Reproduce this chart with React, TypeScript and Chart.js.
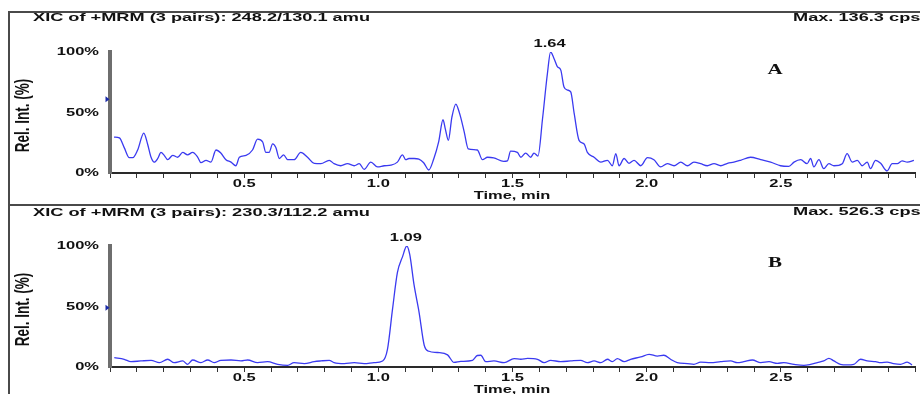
import { useEffect, useRef } from 'react';
import { Chart, registerables } from 'chart.js';

Chart.register(...registerables);

// ---------- data ----------
const timesA = [0.015, 0.035, 0.053, 0.072, 0.085, 0.103, 0.126, 0.140, 0.153, 0.165, 0.178, 0.190, 0.202, 0.215, 0.234, 0.252, 0.271, 0.289, 0.308, 0.327, 0.339, 0.358, 0.376, 0.395, 0.413, 0.432, 0.451, 0.469, 0.482, 0.507, 0.531, 0.550, 0.569, 0.581, 0.593, 0.606, 0.618, 0.631, 0.647, 0.662, 0.686, 0.711, 0.736, 0.761, 0.786, 0.817, 0.835, 0.860, 0.885, 0.910, 0.929, 0.947, 0.972, 0.997, 1.022, 1.047, 1.071, 1.090, 1.102, 1.114, 1.133, 1.151, 1.169, 1.188, 1.207, 1.225, 1.241, 1.250, 1.261, 1.274, 1.289, 1.296, 1.307, 1.320, 1.335, 1.369, 1.388, 1.407, 1.430, 1.467, 1.481, 1.493, 1.518, 1.531, 1.549, 1.568, 1.580, 1.595, 1.612, 1.630, 1.642, 1.655, 1.667, 1.680, 1.692, 1.705, 1.717, 1.730, 1.748, 1.767, 1.779, 1.804, 1.829, 1.854, 1.872, 1.885, 1.897, 1.916, 1.934, 1.953, 1.978, 2.003, 2.027, 2.052, 2.077, 2.102, 2.127, 2.152, 2.176, 2.201, 2.226, 2.251, 2.276, 2.301, 2.325, 2.350, 2.387, 2.425, 2.462, 2.499, 2.530, 2.549, 2.574, 2.598, 2.611, 2.623, 2.642, 2.660, 2.679, 2.698, 2.729, 2.747, 2.766, 2.785, 2.803, 2.822, 2.834, 2.853, 2.872, 2.896, 2.915, 2.934, 2.952, 2.971, 2.996];
const valuesA = [29.7, 29, 21, 12.7, 12.7, 19, 33, 24, 13, 9, 12, 17, 14.6, 11, 14.6, 13, 17, 15, 17, 13, 8.5, 10.5, 9, 19, 16.5, 11, 9, 6, 13, 14.6, 19, 28, 25.6, 17, 17, 24, 21, 12, 15, 11, 11, 17, 13, 8, 7.7, 10.5, 7.7, 6, 7.7, 6, 7.7, 3, 9, 5, 6, 6.5, 9, 15, 11, 12, 12, 11.5, 8.5, 2.5, 12, 26, 44, 36, 27, 46, 57, 54, 46, 34, 20, 19, 11, 13, 12.5, 9.6, 10, 18, 17, 13, 16.5, 13, 16.5, 14, 45, 82, 100, 94.5, 88, 85, 71, 68.5, 67, 49, 27, 24, 17, 13, 9, 10.5, 6, 16, 6, 12, 8, 10.5, 6, 12.7, 11, 5, 7.7, 6, 9, 6, 9, 7.7, 6, 7.7, 6, 8, 9, 10.5, 13, 11, 9, 6, 5.5, 9, 11, 7.7, 12, 5, 11, 3.6, 7.7, 6, 7.7, 16, 9, 10.5, 6, 9, 3.6, 10.5, 8, 1.7, 7.7, 7.7, 10, 9, 10.5];

const timesB = [0.016, 0.053, 0.078, 0.115, 0.153, 0.184, 0.215, 0.239, 0.271, 0.289, 0.308, 0.339, 0.364, 0.388, 0.413, 0.451, 0.488, 0.513, 0.550, 0.587, 0.625, 0.662, 0.686, 0.724, 0.761, 0.786, 0.817, 0.835, 0.873, 0.910, 0.947, 0.984, 1.016, 1.034, 1.053, 1.071, 1.090, 1.106, 1.117, 1.133, 1.152, 1.171, 1.189, 1.220, 1.258, 1.282, 1.307, 1.351, 1.369, 1.382, 1.400, 1.431, 1.469, 1.506, 1.531, 1.556, 1.593, 1.618, 1.642, 1.680, 1.717, 1.754, 1.779, 1.804, 1.829, 1.854, 1.872, 1.891, 1.916, 1.940, 1.978, 2.009, 2.040, 2.064, 2.089, 2.114, 2.152, 2.176, 2.201, 2.238, 2.276, 2.313, 2.338, 2.362, 2.394, 2.425, 2.456, 2.487, 2.511, 2.549, 2.586, 2.611, 2.636, 2.660, 2.679, 2.698, 2.722, 2.747, 2.772, 2.797, 2.822, 2.853, 2.872, 2.896, 2.920, 2.946, 2.971, 2.989];
const valuesB = [7.7, 6.4, 4.4, 5, 5.5, 3.6, 6.4, 3.6, 5, 2.2, 5.8, 3.6, 5.8, 3.6, 5.5, 5.8, 5, 5.8, 3.6, 4.4, 2.2, 1.4, 3.6, 2.8, 4.4, 5, 5.5, 3.6, 2.8, 3.6, 2.8, 3.6, 5, 14.6, 48, 78, 91, 100, 93, 68, 45, 18, 13, 12, 10, 3.8, 4.6, 5.5, 9.5, 9.7, 4.4, 5, 3.6, 7, 6.4, 7.2, 6.4, 3.6, 5.5, 4.4, 5, 5.5, 3.6, 5, 3.6, 6.4, 4.4, 7, 4.4, 6.4, 8.3, 10.5, 9, 9.7, 6.4, 3.6, 2.8, 2.2, 4, 3.6, 4.4, 5, 3.6, 4.4, 5.8, 3.6, 4.4, 3, 3.6, 2.2, 1.4, 2.2, 3.6, 5, 7.2, 5, 2.2, 1.7, 2.2, 6.4, 5, 4.4, 3.6, 4, 2.8, 2.2, 4, 1.7];

const titles = ['XIC of +MRM (3 pairs): 248.2/130.1 amu', 'XIC of +MRM (3 pairs): 230.3/112.2 amu'];
const maxLabels = ['Max. 136.3 cps', 'Max. 526.3 cps'];
const panelLetters = ['A', 'B'];
const peakLabels = ['1.64', '1.09'];
const markerLevels = [61, 49];
const xAxisTitle = 'Time, min';
const yAxisTitle = 'Rel. Int. (%)';
const xMin = 0;
const xMax = 3.0;
const xStep = 0.1;
const yStep = 50;

// ---------- styles / layout ----------
const LINE = '#3a3af0';
const TEXT = '#111111';
const FRAME = '#4a4a4a';
const SANS = '"Liberation Sans", Arial, sans-serif';
const SERIF = '"Liberation Serif", "Times New Roman", serif';

type Layout = {
  h: number; padTop: number; xAxisH: number; titleY: number; maxY: number;
  letterY: number; top: boolean;
};
const layouts: Layout[] = [
  { h: 206, padTop: 52, xAxisH: 33, titleY: 18, maxY: 18, letterY: 70, top: true },
  { h: 188, padTop: 40, xAxisH: 27, titleY: 7, maxY: 6, letterY: 57.5, top: false },
];

function stretchText(ctx: CanvasRenderingContext2D, text: string, x: number, y: number, sx: number, align: CanvasTextAlign, font: string) {
  ctx.save();
  ctx.font = font;
  ctx.textBaseline = 'middle';
  ctx.textAlign = align;
  ctx.translate(x, y);
  ctx.scale(sx, 1);
  ctx.fillText(text, 0, 0);
  ctx.restore();
}

function decor(idx: number, lay: Layout, times: number[], values: number[]) {
  return {
    id: 'decor' + idx,
    afterDraw(chart: any) {
      const ctx: CanvasRenderingContext2D = chart.ctx;
      const area = chart.chartArea;
      const xs = chart.scales.x;
      const ys = chart.scales.y;
      ctx.save();
      // frame
      ctx.strokeStyle = FRAME;
      ctx.lineWidth = 2;
      ctx.beginPath();
      if (lay.top) {
        ctx.moveTo(9, lay.h);
        ctx.lineTo(9, 12);
        ctx.lineTo(920, 12);
        ctx.moveTo(9, 205);
        ctx.lineTo(920, 205);
      } else {
        ctx.moveTo(9, 0);
        ctx.lineTo(9, lay.h);
      }
      ctx.stroke();

      ctx.fillStyle = TEXT;
      const f11 = 'bold 11px ' + SANS;
      // title fitted
      ctx.font = f11;
      const tw = ctx.measureText(titles[idx]).width;
      const tsx = 337 / tw;
      stretchText(ctx, titles[idx], 33, lay.titleY, tsx, 'left', f11);
      stretchText(ctx, maxLabels[idx], 793, lay.maxY, tsx, 'left', f11);

      // panel letter
      stretchText(ctx, panelLetters[idx], 775, lay.letterY, 1.4, 'center', 'bold 15px ' + SERIF);

      // peak label
      let pi = 0;
      for (let i = 1; i < values.length; i++) if (values[i] > values[pi]) pi = i;
      stretchText(ctx, peakLabels[idx], xs.getPixelForValue(times[pi]) - 1, area.top - 8, 1.5, 'center', f11);

      // x tick labels
      for (const t of xs.ticks) {
        if (!t.label) continue;
        stretchText(ctx, String(t.label), xs.getPixelForValue(t.value), area.bottom + 11, 1.5, 'center', f11);
      }
      // y tick labels
      for (const t of ys.ticks) {
        if (!t.label) continue;
        stretchText(ctx, String(t.label), 99, ys.getPixelForValue(t.value), 1.5, 'right', f11);
      }
      // x axis title
      stretchText(ctx, xAxisTitle, 512, area.bottom + 23, 1.5, 'center', f11);

      // y axis title (rotated, glyphs widened horizontally)
      ctx.save();
      ctx.translate(23, (area.top + area.bottom) / 2 + 3);
      ctx.rotate(-Math.PI / 2);
      ctx.scale(1, 1.5);
      ctx.font = 'bold 13.5px ' + SANS;
      ctx.textAlign = 'center';
      ctx.textBaseline = 'middle';
      ctx.fillText(yAxisTitle, 0, 0);
      ctx.restore();

      // marker
      const my = ys.getPixelForValue(markerLevels[idx]);
      ctx.fillStyle = '#1a2aa8';
      ctx.beginPath();
      ctx.moveTo(105.5, my - 3);
      ctx.lineTo(109.5, my);
      ctx.lineTo(105.5, my + 3);
      ctx.closePath();
      ctx.fill();
      ctx.restore();
    },
  };
}

function makeConfig(idx: number, times: number[], values: number[]): any {
  const lay = layouts[idx];
  return {
    type: 'line',
    data: {
      datasets: [{
        data: times.map((t, i) => ({ x: t, y: values[i] })),
        borderColor: LINE,
        borderWidth: 1.3,
        pointRadius: 0,
        fill: false,
        tension: 0.4,
        cubicInterpolationMode: 'monotone',
      }],
    },
    options: {
      animation: false,
      responsive: false,
      maintainAspectRatio: false,
      events: [],
      layout: { padding: { top: lay.padTop, right: 5, left: 0, bottom: 0 } },
      plugins: { legend: { display: false }, tooltip: { enabled: false }, title: { display: false } },
      scales: {
        x: {
          type: 'linear',
          min: xMin,
          max: xMax,
          afterFit: (s: any) => { s.height = lay.xAxisH; },
          ticks: {
            display: false,
            autoSkip: false,
            stepSize: xStep,
            maxTicksLimit: 100,
            callback: (v: number) => {
              const r = Math.round(v * 10);
              return r % 5 === 0 && r > 0 && r < 30 ? (r / 10).toFixed(1) : '';
            },
          },
          grid: { display: true, drawOnChartArea: false, drawTicks: true, tickLength: 5, color: '#333333', lineWidth: 1 },
          border: { display: true, color: '#2a2a2a', width: 2 },
        },
        y: {
          type: 'linear',
          min: 0,
          max: 100,
          afterFit: (s: any) => { s.width = 110; },
          ticks: { display: false, stepSize: yStep, callback: (v: number) => v + '%' },
          grid: { display: true, drawOnChartArea: false, drawTicks: false, color: 'rgba(0,0,0,0)', lineWidth: 1 },
          border: { display: true, color: '#6e6e6e', width: 4 },
        },
      },
    },
    plugins: [decor(idx, lay, times, values)],
  };
}

export default function App() {
  const ref1 = useRef<HTMLCanvasElement>(null);
  const ref2 = useRef<HTMLCanvasElement>(null);
  useEffect(() => {
    const c1 = new Chart(ref1.current as HTMLCanvasElement, makeConfig(0, timesA, valuesA));
    const c2 = new Chart(ref2.current as HTMLCanvasElement, makeConfig(1, timesB, valuesB));
    return () => { c1.destroy(); c2.destroy(); };
  }, []);
  return (
    <div style={{ position: 'absolute', left: 0, top: 0, width: 920, height: 394, background: '#ffffff', overflow: 'hidden' }}>
      <canvas ref={ref1} width={920} height={206} style={{ position: 'absolute', left: 0, top: 0, width: 920, height: 206, display: 'block' }} />
      <canvas ref={ref2} width={920} height={188} style={{ position: 'absolute', left: 0, top: 206, width: 920, height: 188, display: 'block' }} />
    </div>
  );
}
